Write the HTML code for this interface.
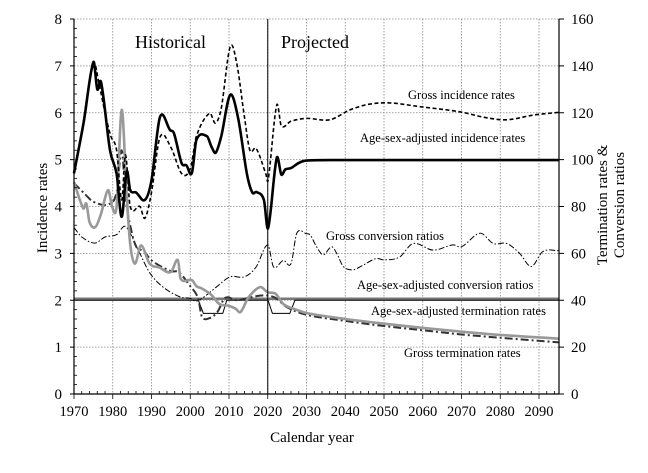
<!DOCTYPE html>
<html><head><meta charset="utf-8">
<style>
html,body{margin:0;padding:0;background:#fff;}
svg, svg text{font-family:"Liberation Serif","DejaVu Serif",serif;}
</style></head>
<body>
<svg id="s" width="648" height="468" viewBox="0 0 648 468" xmlns="http://www.w3.org/2000/svg" font-family="Liberation Serif, serif">
<g id="grid"></g>
<g id="series"></g>
<g id="axes"></g>
<text x="135" y="48" font-size="18">Historical</text>
<text x="281" y="48" font-size="18">Projected</text>
<g font-size="12.5" fill="#000">
<text x="408" y="99">Gross incidence rates</text>
<text x="360" y="142">Age-sex-adjusted incidence rates</text>
<text x="326" y="240">Gross conversion ratios</text>
<text x="357" y="289">Age-sex-adjusted conversion ratios</text>
<text x="371" y="315">Age-sex-adjusted termination rates</text>
<text x="404" y="357">Gross termination rates</text>
</g>
<text x="312" y="442" font-size="15" text-anchor="middle">Calendar year</text>
<text transform="translate(47,208) rotate(-90)" font-size="15" text-anchor="middle">Incidence rates</text>
<text transform="translate(607,205) rotate(-90)" font-size="15" text-anchor="middle">Termination rates &amp;</text>
<text transform="translate(624,205) rotate(-90)" font-size="15" text-anchor="middle">Conversion ratios</text>
</svg>
<script>
var NS="http://www.w3.org/2000/svg";
function X(y){return 74+(y-1970)*3.875;}
function Y(v){return 394-v*46.875;}
function el(p,tag,a){var e=document.createElementNS(NS,tag);for(var k in a)e.setAttribute(k,a[k]);p.appendChild(e);return e;}
var G=document.getElementById('grid'),S=document.getElementById('series'),A=document.getElementById('axes');
for(var yr=1980;yr<=2090;yr+=10){el(G,'line',{x1:X(yr),x2:X(yr),y1:19,y2:394,stroke:'#888','stroke-width':0.8,'stroke-dasharray':'1.5,1.5'});}
for(var v=1;v<=8;v++){el(G,'line',{x1:74,x2:559,y1:Y(v),y2:Y(v),stroke:'#888','stroke-width':0.8,'stroke-dasharray':'1.5,1.5'});}
function clamp(a,lo,hi){return Math.max(lo,Math.min(hi,a));}
function path(pts,attrs,smooth){
  var P=pts.map(function(p){return [X(p[0]),Y(p[1])];});
  var d='M'+P[0][0].toFixed(1)+','+P[0][1].toFixed(1);
  for(var i=1;i<P.length;i++){
    if(smooth){
      var p0=P[Math.max(i-2,0)],p1=P[i-1],p2=P[i],p3=P[Math.min(i+1,P.length-1)];
      var dx=p2[0]-p1[0];
      var s1=(p2[1]-p0[1])/((p2[0]-p0[0])||1), s2=(p3[1]-p1[1])/((p3[0]-p1[0])||1);
      var c1=[p1[0]+dx/3,p1[1]+s1*dx/3];
      var c2=[p2[0]-dx/3,p2[1]-s2*dx/3];
      var lo=Math.min(p1[1],p2[1])-12,hi=Math.max(p1[1],p2[1])+12;
      c1[1]=clamp(c1[1],lo,hi);c2[1]=clamp(c2[1],lo,hi);
      d+='C'+c1[0].toFixed(1)+','+c1[1].toFixed(1)+' '+c2[0].toFixed(1)+','+c2[1].toFixed(1)+' '+p2[0].toFixed(1)+','+p2[1].toFixed(1);
    } else d+='L'+P[i][0].toFixed(1)+','+P[i][1].toFixed(1);
  }
  attrs.d=d;attrs.fill='none';attrs['stroke-linejoin']='round';return el(S,'path',attrs);}
path([[1970,2.03],[2095.2,2.03]],{stroke:'#777','stroke-width':2.5});
path([[1970,2.0],[2002.1,2.0],[2003.4,1.72],[2008.4,1.72],[2009.4,2.0],[2020.1,2.0],[2021.2,1.72],[2025.7,1.72],[2027,2.0],[2095.2,2.0]],{stroke:'#000','stroke-width':1});
path([[1970,3.55],[1972,3.35],[1975.4,3.22],[1978,3.35],[1981,3.4],[1983,3.58],[1984.5,3.43],[1987,3.0],[1989.6,2.58],[1993,2.28],[1997.4,2.07],[2000,2.04],[2001.6,1.98],[2004,2.1],[2007,2.3],[2010.3,2.5],[2014,2.5],[2017,2.71],[2020,3.18],[2021.5,2.71],[2024,2.85],[2026,2.78],[2027.5,3.43],[2030,3.42],[2031,3.39],[2032.6,3.14],[2034.3,2.97],[2036.5,3.14],[2037.8,3.0],[2039.5,2.72],[2042,2.65],[2044.6,2.75],[2048,2.89],[2050,2.86],[2054,2.92],[2057.5,3.21],[2062.7,3.07],[2067.8,3.18],[2070,3.14],[2074.8,3.43],[2078.2,3.21],[2081.7,3.21],[2085,3.0],[2088,2.72],[2091,3.04],[2095.2,3.06]],{stroke:'#000','stroke-width':1,'stroke-dasharray':'6,2,1.5,2'},true);
path([[1970,4.5],[1973,4.25],[1975,4.1],[1979,4.05],[1981,4.3],[1982.3,5.2],[1983.3,4.2],[1984.5,3.6],[1986,3.15],[1988,3.05],[1990,2.85],[1995,2.62],[1997,2.6],[2000,2.3],[2002,2.05],[2003,1.65],[2005,1.62],[2007,1.75],[2009,2.05],[2012,2.0],[2015,2.05],[2018,2.1],[2020,2.1],[2022,2.05],[2025,1.85],[2030,1.69],[2040,1.56],[2050,1.45],[2060,1.36],[2070,1.27],[2080,1.2],[2095.2,1.1]],{stroke:'#333','stroke-width':2,'stroke-dasharray':'8,3,2,3'},true);
path([[1970,4.52],[1972.4,3.96],[1973.2,4.06],[1974,3.67],[1975.5,3.56],[1977,3.85],[1978.8,4.35],[1979.9,3.98],[1981,4.0],[1982.3,6.06],[1983.6,4.24],[1984.5,3.2],[1985.7,2.78],[1987.3,3.17],[1989.5,2.78],[1992,2.7],[1995,2.6],[1996.8,2.86],[1997.5,2.46],[2000.4,2.43],[2001.6,2.3],[2003,2.25],[2005.5,2.11],[2007.5,1.92],[2010,1.88],[2011.7,1.82],[2013,1.75],[2015,2.06],[2018,2.28],[2020,2.17],[2022,2.14],[2024,1.92],[2027,1.81],[2030.4,1.72],[2040,1.6],[2050,1.5],[2060,1.41],[2070,1.33],[2080,1.26],[2095.2,1.18]],{stroke:'#999','stroke-width':2.6},true);
path([[1970,4.7],[1972,5.6],[1975,7.05],[1976.5,6.6],[1978,6.0],[1979.5,5.5],[1981,5.2],[1982.3,4.14],[1983.3,5.1],[1984.5,4.0],[1987,4.0],[1988.3,3.75],[1990,4.3],[1992.2,5.48],[1995,5.26],[1997.8,4.7],[2000,4.8],[2001.6,5.5],[2005,5.99],[2006.5,5.78],[2008,6.1],[2010.3,7.41],[2012,7.05],[2014,5.9],[2015.4,5.2],[2017,5.24],[2019.5,4.7],[2020.1,4.56],[2022.3,6.16],[2023.5,5.72],[2026,5.82],[2030,5.88],[2036,5.85],[2041.2,6.06],[2046,6.18],[2051.5,6.21],[2059.3,6.13],[2069.6,6.02],[2076,5.9],[2081.7,5.85],[2088.5,5.95],[2095.2,6.01]],{stroke:'#000','stroke-width':1.6,'stroke-dasharray':'4,2.5'},true);
path([[1970,4.71],[1972.5,5.8],[1975,7.08],[1976,6.5],[1977,6.65],[1979.3,5.2],[1981,4.7],[1982.3,3.78],[1983.6,4.75],[1984.5,4.35],[1986,4.3],[1988.3,4.14],[1990,4.56],[1992.2,5.91],[1994.8,5.63],[1995.8,5.56],[1997.8,4.92],[1999,4.88],[2000.4,4.71],[2001.6,5.42],[2004.3,5.5],[2005.5,5.27],[2006.6,5.15],[2008,5.5],[2010.3,6.38],[2012.3,5.91],[2014.6,4.71],[2016,4.3],[2017.1,4.31],[2019,4.14],[2020.1,3.54],[2022.3,5.03],[2023.5,4.68],[2024.5,4.79],[2026,4.82],[2028,4.93],[2030,4.98],[2040,4.99],[2060,4.99],[2080,4.99],[2095.2,4.99]],{stroke:'#000','stroke-width':2.6},true);
el(S,'line',{x1:X(2020),x2:X(2020),y1:19,y2:394,stroke:'#000','stroke-width':1});
el(A,'line',{x1:74,x2:74,y1:19,y2:394,stroke:'#000','stroke-width':1.2});
el(A,'line',{x1:559,x2:559,y1:19,y2:394,stroke:'#000','stroke-width':1.2});
el(A,'line',{x1:74,x2:559,y1:394,y2:394,stroke:'#000','stroke-width':1.2});
var FF='Liberation Serif, serif';
for(var v=0;v<=8;v++){
  el(A,'line',{x1:70,x2:74,y1:Y(v),y2:Y(v),stroke:'#000','stroke-width':1});
  el(A,'line',{x1:559,x2:564,y1:Y(v),y2:Y(v),stroke:'#000','stroke-width':1});
  var t=el(A,'text',{x:62,y:Y(v)+5,'font-size':15,'text-anchor':'end','font-family':FF});t.textContent=v;
  var t2=el(A,'text',{x:571,y:Y(v)+5,'font-size':15,'font-family':FF});t2.textContent=v*20;
  if(v<8)for(var m=1;m<5;m++){var yy=Y(v+m*0.2);el(A,'line',{x1:74,x2:77,y1:yy,y2:yy,stroke:'#000','stroke-width':0.8});}
}
for(var yr=1970;yr<=2094;yr+=2){
  var big=(yr%10==0);
  el(A,'line',{x1:X(yr),x2:X(yr),y1:394,y2:big?399:391,stroke:'#000','stroke-width':0.8});
  if(big&&yr<=2090){var t=el(A,'text',{x:X(yr),y:416,'font-size':14.5,'text-anchor':'middle','font-family':FF});t.textContent=yr;}
}
</script>
</body></html>
